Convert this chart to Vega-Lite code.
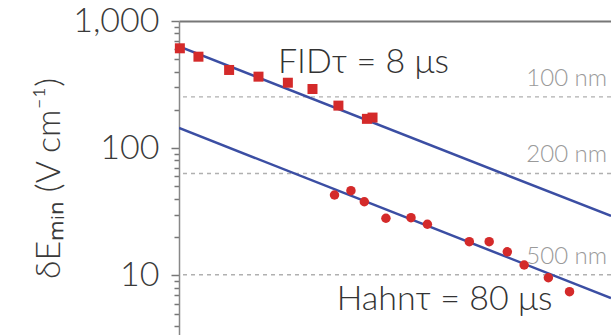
{
  "$schema": "https://vega.github.io/schema/vega-lite/v6.json",
  "autosize": "none",
  "width": 432,
  "height": 314,
  "padding": {"left": 179, "top": 21, "right": 0, "bottom": 0},
  "background": "white",
  "config": {
    "view": {"stroke": null},
    "font": "Lato",
    "text": {"font": "Lato"}
  },
  "datasets": {
    "fid": [
      {"x": 0.02, "E": 610}, {"x": 0.45, "E": 524}, {"x": 1.16, "E": 412},
      {"x": 1.84, "E": 365}, {"x": 2.52, "E": 327}, {"x": 3.09, "E": 292},
      {"x": 3.69, "E": 216}, {"x": 4.35, "E": 170}, {"x": 4.48, "E": 174}
    ],
    "hahn": [
      {"x": 3.6, "E": 42.8}, {"x": 3.98, "E": 46.3}, {"x": 4.29, "E": 37.9},
      {"x": 4.79, "E": 28.1}, {"x": 5.37, "E": 28.4}, {"x": 5.75, "E": 25.2},
      {"x": 6.72, "E": 18.4}, {"x": 7.18, "E": 18.4}, {"x": 7.6, "E": 15.3},
      {"x": 7.99, "E": 12.05}, {"x": 8.55, "E": 9.57}, {"x": 9.04, "E": 7.43}
    ],
    "fits": [
      {"series": "FID", "x": 0, "E": 630}, {"series": "FID", "x": 10, "E": 29.3},
      {"series": "Hahn", "x": 0, "E": 144}, {"series": "Hahn", "x": 10, "E": 6.63}
    ],
    "limits": [
      {"E": 253, "label": "100 nm"},
      {"E": 63.2, "label": "200 nm"},
      {"E": 10.1, "label": "500 nm"}
    ],
    "notes": [
      {"x": 2.29, "E": 388, "label": "FIDτ = 8 μs"},
      {"x": 3.65, "E": 5.33, "label": "Hahnτ = 80 μs"}
    ]
  },
  "encoding": {
    "y": {
      "field": "E",
      "type": "quantitative",
      "scale": {"type": "log", "domain": [3.393, 1000], "nice": false},
      "axis": {
        "orient": "left",
        "values": [4, 5, 6, 7, 8, 9, 10, 20, 30, 40, 50, 60, 70, 80, 90, 100, 200, 300, 400, 500, 600, 700, 800, 900, 1000],
        "labelExpr": "indexof([10,100,1000], datum.value) >= 0 ? format(datum.value, ',') : ''",
        "labelOverlap": false,
        "labelBound": false,
        "labelFlush": false,
        "labelFont": "Lato",
        "labelFontWeight": 300,
        "labelFontSize": 34,
        "labelColor": "#3a3a3a",
        "labelPadding": 12,
        "tickSize": {"condition": {"test": "indexof([10,100,1000], datum.value) >= 0", "value": 8}, "value": 5},
        "tickColor": "#777",
        "tickWidth": 1.5,
        "domainColor": "#888",
        "domainWidth": 1.5,
        "grid": false,
        "title": "δEₘᵢₙ (V cm⁻¹)",
        "titleFont": "Lato",
        "titleFontWeight": 300,
        "titleFontSize": 34,
        "titleColor": "#3a3a3a",
        "titlePadding": 6
      }
    }
  },
  "layer": [
    {
      "data": {"name": "limits"},
      "mark": {"type": "rule", "stroke": "#b0b0b0", "strokeWidth": 1.3, "strokeDash": [4, 4]},
      "encoding": {}
    },
    {
      "data": {"name": "limits"},
      "mark": {"type": "text", "align": "right", "baseline": "alphabetic", "dy": -11, "fontSize": 24, "fontWeight": 300, "color": "#9a9a9a", "font": "Lato"},
      "encoding": {
        "x": {"datum": 9.91, "type": "quantitative", "scale": {"domain": [0, 10], "nice": false, "zero": false}, "axis": {"orient": "top", "labels": false, "ticks": false, "title": null, "domainColor": "#777", "domainWidth": 2, "grid": false}},
        "text": {"field": "label"}
      }
    },
    {
      "data": {"name": "fits"},
      "mark": {"type": "line", "stroke": "#3b4ea3", "strokeWidth": 2.5, "clip": true},
      "encoding": {
        "x": {"field": "x", "type": "quantitative", "scale": {"domain": [0, 10], "nice": false, "zero": false}, "axis": {"orient": "top", "labels": false, "ticks": false, "title": null, "domainColor": "#777", "domainWidth": 2, "grid": false}},
        "detail": {"field": "series"}
      }
    },
    {
      "data": {"name": "fid"},
      "mark": {"type": "point", "shape": "square", "filled": true, "size": 100, "color": "#d42a2a", "opacity": 1},
      "encoding": {
        "x": {"field": "x", "type": "quantitative", "scale": {"domain": [0, 10], "nice": false, "zero": false}, "axis": {"orient": "top", "labels": false, "ticks": false, "title": null, "domainColor": "#777", "domainWidth": 2, "grid": false}}
      }
    },
    {
      "data": {"name": "hahn"},
      "mark": {"type": "point", "shape": "circle", "filled": true, "size": 90, "color": "#d42a2a", "opacity": 1},
      "encoding": {
        "x": {"field": "x", "type": "quantitative", "scale": {"domain": [0, 10], "nice": false, "zero": false}, "axis": {"orient": "top", "labels": false, "ticks": false, "title": null, "domainColor": "#777", "domainWidth": 2, "grid": false}}
      }
    },
    {
      "data": {"name": "notes"},
      "mark": {"type": "text", "align": "left", "baseline": "alphabetic", "fontSize": 34, "fontWeight": 300, "color": "#333", "font": "Lato"},
      "encoding": {
        "x": {"field": "x", "type": "quantitative", "scale": {"domain": [0, 10], "nice": false, "zero": false}, "axis": {"orient": "top", "labels": false, "ticks": false, "title": null, "domainColor": "#777", "domainWidth": 2, "grid": false}},
        "text": {"field": "label"}
      }
    }
  ]
}
